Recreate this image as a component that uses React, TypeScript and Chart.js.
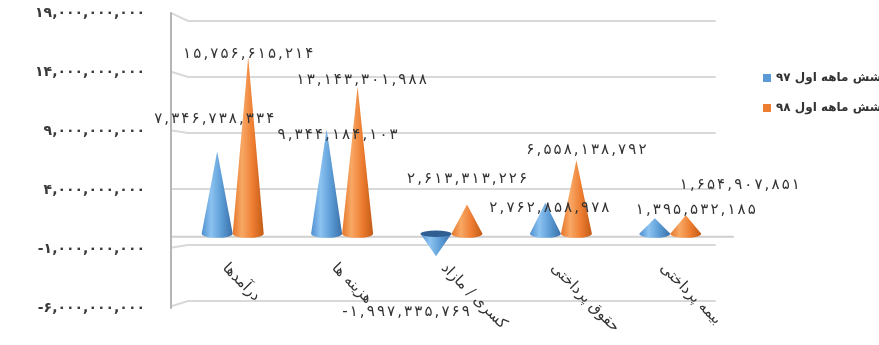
import React, { useEffect, useRef } from "react";
import { Chart, registerables } from "chart.js";

Chart.register(...registerables);

const categories = ["درآمدها", "هزینه ها", "کسری / مازاد", "حقوق پرداختی", "بیمه پرداختی"];
const seriesLabels = ["شش ماهه اول ۹۷", "شش ماهه اول ۹۸"];
const values97 = [7346738334, 9344184103, -1997335769, 2762858978, 1395532185];
const values98 = [15756615214, 13143301988, 2613313226, 6558138792, 1654907851];
const yTickValues = [-6e9, -1e9, 4e9, 9e9, 14e9, 19e9];

// layout-only: data label placement relative to each cone tip
const labelOffsets97 = [[-3, -32], [11, 6], [-30, 56], [4, 5], [41, -8]];
const labelOffsets98 = [[0, -3], [4, -6], [0, -25], [10, -10], [54, -30]];

const FA_DIGITS = "۰۱۲۳۴۵۶۷۸۹";
const toFa = (n: number) =>
  Math.round(n).toLocaleString("en-US").replace(/\d/g, (d) => FA_DIGITS[+d]);

const BLUE = "#5b9bd5";
const ORANGE = "#ed7d31";
const TEXT = "#333333";
const FONT = '"DejaVu Sans", sans-serif';

const coneStops: Record<string, [number, string][]> = {
  blue: [[0, "#4f8fcf"], [0.3, "#8cc3f1"], [0.65, "#5b9bd5"], [1, "#3a6fa8"]],
  orange: [[0, "#e5762a"], [0.3, "#f8a865"], [0.65, "#ed7d31"], [1, "#c25a15"]],
};

// draws a digit string centred at (cx, cy) with extra spacing between glyphs
function fillSpaced(ctx: CanvasRenderingContext2D, text: string, cx: number, cy: number, sp: number) {
  const chars = Array.from(text);
  const widths = chars.map((c) => ctx.measureText(c).width);
  const total = widths.reduce((a, b) => a + b, 0) + sp * (chars.length - 1);
  let x = cx - total / 2;
  ctx.textAlign = "left";
  chars.forEach((c, i) => {
    ctx.fillText(c, x, cy);
    x += widths[i] + sp;
  });
}

const conePlugin = {
  id: "cones3d",
  beforeDatasetsDraw(chart: any) {
    const ctx = chart.ctx as CanvasRenderingContext2D;
    const { left, right, top, bottom } = chart.chartArea;
    const ys = chart.scales.y;
    const eye = ys.getPixelForValue(4e9);
    ctx.save();
    ctx.lineCap = "round";
    ctx.strokeStyle = "#d9d9d9";
    ctx.lineWidth = 2;
    yTickValues.forEach((v) => {
      const y = ys.getPixelForValue(v);
      const s = (y - eye) * 0.045;
      ctx.beginPath();
      ctx.moveTo(left - 6, y + s);
      ctx.lineTo(left + 10, y);
      ctx.lineTo(right - 10, y);
      ctx.stroke();
    });
    const y0 = ys.getPixelForValue(0);
    ctx.strokeStyle = "#cfcfcf";
    ctx.beginPath();
    ctx.moveTo(left - 6, y0 + 3);
    ctx.lineTo(right + 8, y0 + 3);
    ctx.stroke();
    ctx.strokeStyle = "#b5b5b5";
    ctx.beginPath();
    ctx.moveTo(left - 7, top - 8);
    ctx.lineTo(left - 7, bottom + 7);
    ctx.stroke();
    ctx.restore();
  },
  afterDatasetsDraw(chart: any) {
    const ctx = chart.ctx as CanvasRenderingContext2D;
    ctx.save();
    [0, 1].forEach((di) => {
      const meta = chart.getDatasetMeta(di);
      const stops = coneStops[di === 0 ? "blue" : "orange"];
      meta.data.forEach((el: any) => {
        const { x, y, base, width } = el.getProps(["x", "y", "base", "width"], true);
        const rx = width / 2;
        const ry = width * 0.13;
        const g = ctx.createLinearGradient(x - rx, 0, x + rx, 0);
        stops.forEach(([o, c]) => g.addColorStop(o, c));
        ctx.fillStyle = g;
        ctx.beginPath();
        if (y <= base) {
          ctx.moveTo(x, y);
          ctx.lineTo(x + rx, base);
          ctx.ellipse(x, base, rx, ry, 0, 0, Math.PI, false);
          ctx.closePath();
          ctx.fill();
        } else {
          ctx.moveTo(x - rx, base);
          ctx.lineTo(x, y);
          ctx.lineTo(x + rx, base);
          ctx.closePath();
          ctx.fill();
          ctx.fillStyle = di === 0 ? "#2f5f92" : "#b85414";
          ctx.beginPath();
          ctx.ellipse(x, base, rx, ry * 0.8, 0, 0, Math.PI * 2);
          ctx.fill();
        }
      });
    });
    // data labels
    ctx.font = `15px ${FONT}`;
    ctx.fillStyle = TEXT;
    ctx.textBaseline = "middle";
    [0, 1].forEach((di) => {
      const meta = chart.getDatasetMeta(di);
      const vals = di === 0 ? values97 : values98;
      const offs = di === 0 ? labelOffsets97 : labelOffsets98;
      meta.data.forEach((el: any, i: number) => {
        const { x, y } = el.getProps(["x", "y"], true);
        fillSpaced(ctx, toFa(vals[i]), x + offs[i][0], y + offs[i][1], 2.1);
      });
    });
    ctx.restore();
  },
  afterDraw(chart: any) {
    const ctx = chart.ctx as CanvasRenderingContext2D;
    const { left, right, top, bottom } = chart.chartArea;
    const xs = chart.scales.x;
    const ys = chart.scales.y;
    ctx.save();
    // y tick labels
    const mid = (top + bottom) / 2;
    ctx.font = `bold 14px ${FONT}`;
    ctx.fillStyle = "#3a3a3a";
    ctx.textAlign = "right";
    ctx.textBaseline = "middle";
    yTickValues.forEach((v) => {
      const p = ys.getPixelForValue(v);
      ctx.fillText(toFa(v), left - 33, p + (p - mid) * 0.056);
    });
    // category labels (rotated)
    const y0 = ys.getPixelForValue(0);
    ctx.font = `15px ${FONT}`;
    ctx.fillStyle = TEXT;
    ctx.textAlign = "left";
    ctx.textBaseline = "middle";
    categories.forEach((c, i) => {
      const x = xs.getPixelForValue(i);
      ctx.save();
      ctx.translate(x - 8, y0 + 32);
      ctx.rotate(Math.PI / 4);
      ctx.fillText(c, 0, 0);
      ctx.restore();
    });
    // legend
    ctx.font = `bold 12px ${FONT}`;
    ctx.textAlign = "left";
    ctx.textBaseline = "middle";
    [BLUE, ORANGE].forEach((col, i) => {
      const ly = top + 57 + i * 30;
      ctx.fillStyle = col;
      ctx.fillRect(right + 38, ly - 4, 8, 8);
      ctx.fillStyle = TEXT;
      ctx.fillText(seriesLabels[i], right + 51, ly);
    });
    ctx.restore();
  },
};

export default function App() {
  const ref = useRef<HTMLCanvasElement | null>(null);
  useEffect(() => {
    document.body.style.margin = "0";
    const canvas = ref.current;
    if (!canvas) return;
    const chart = new Chart(canvas, {
      type: "bar",
      data: {
        labels: categories,
        datasets: [
          { label: seriesLabels[0], data: values97, backgroundColor: "rgba(0,0,0,0)", borderWidth: 0 },
          { label: seriesLabels[1], data: values98, backgroundColor: "rgba(0,0,0,0)", borderWidth: 0 },
        ],
      },
      options: {
        responsive: false,
        devicePixelRatio: 1,
        animation: false,
        layout: { padding: { top: 21, right: 154, bottom: 44, left: 0 } },
        datasets: { bar: { categoryPercentage: 0.567, barPercentage: 1 } },
        plugins: { legend: { display: false }, tooltip: { enabled: false } },
        scales: {
          x: { display: false },
          y: {
            min: -6e9,
            max: 19e9,
            afterBuildTicks: (scale: any) => {
              scale.ticks = yTickValues.map((v) => ({ value: v }));
            },
            afterFit: (scale: any) => {
              scale.width = 178;
            },
            ticks: { display: false },
            grid: { display: false },
            border: { display: false },
          },
        },
      },
      plugins: [conePlugin],
    });
    return () => chart.destroy();
  }, []);
  return <canvas ref={ref} width={879} height={345} style={{ display: "block" }} />;
}
